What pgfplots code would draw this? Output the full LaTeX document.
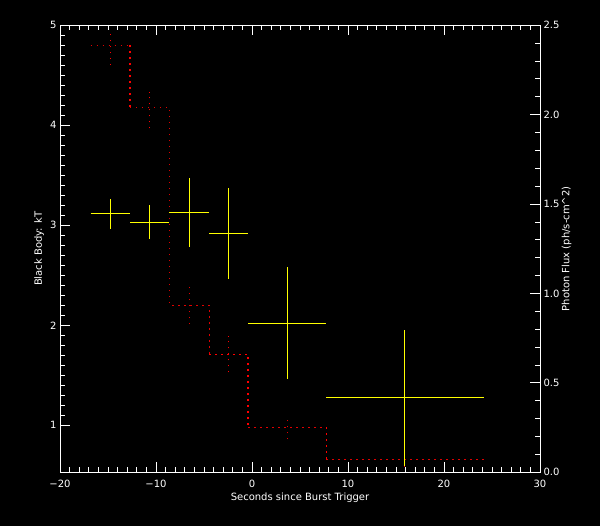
\documentclass[border=0pt]{standalone}
\usepackage{pgfplots}
\pgfplotsset{compat=1.18}
\usepackage{fontspec}
\setmainfont{DejaVu Sans}

\definecolor{fluxred}{RGB}{255,0,0}
\definecolor{fluxdark}{RGB}{225,0,0}
\definecolor{idlyellow}{RGB}{255,255,0}

\pgfplotsset{
  idl/.style={
    width=480pt, height=447pt, scale only axis,
    at={(60pt,53.7pt)}, anchor=south west,
    xmin=-20, xmax=30,
    axis line style={white, line width=0.9pt},
    tick style={white, line width=0.9pt},
    tick align=inside,
    major tick length=10pt, minor tick length=5pt,
    ticklabel style={white, font=\fontsize{10}{12}\selectfont},
    label style={white, font=\fontsize{10}{12}\selectfont},
    /pgf/number format/assume math mode=true,
  },
  dots/.style={line width=1.4pt, dash pattern=on 1.4pt off 4.6pt, unbounded coords=jump},
}

\begin{document}
\begin{tikzpicture}
\useasboundingbox (0,0) rectangle (600pt,526pt);
\fill[black] (0,0) rectangle (600pt,526pt);

% photon flux (right axis), dotted step histogram
\begin{axis}[idl,
    ymin=0, ymax=2.5,
    hide x axis,
    axis y line*=right,
    ytick={0,0.5,...,2.5}, minor y tick num=4,
    yticklabel style={/pgf/number format/.cd, fixed, fixed zerofill, precision=1},
    ylabel={Photon Flux (ph/s-cm\textasciicircum 2)},
    ylabel style={at={([xshift=26.7pt]axis description cs:1,0.5)}, anchor=center},
]
\addplot[fluxdark, dots] table {
x y
-16.8 2.388
-12.7 2.388
nan nan
-12.7 2.041
-8.6 2.041
-8.6 0.934
-4.45 0.934
-4.45 0.660
nan nan
-0.4 0.252
7.75 0.252
nan nan
7.75 0.073
24.2 0.073
nan nan
3.675 0.185
3.675 0.319
nan nan
15.9 0.03
15.9 0.115
nan nan
-6.525 0.828
-6.525 1.046
};
\addplot[fluxred, dots] table {
x y
-12.7 2.388
-12.7 2.041
nan nan
-4.45 0.660
-0.4 0.660
-0.4 0.252
nan nan
7.75 0.252
7.75 0.073
nan nan
-14.75 2.277
-14.75 2.478
nan nan
-10.65 1.924
-10.65 2.129
nan nan
-2.425 0.559
-2.425 0.761
};
\end{axis}

% black body kT (left axis), crosses
\begin{axis}[idl,
    ymin=0.53, ymax=5,
    xtick={-20,-10,...,30},
    xticklabels={−20,−10,0,10,20,30},
    minor x tick num=9,
    xtick pos=both, xticklabel pos=bottom,
    xticklabel style={yshift=-4pt},
    ytick={1,...,5}, minor y tick num=9,
    ytick pos=left,
    xlabel={Seconds since Burst Trigger},
    xlabel style={at={([yshift=-25pt]axis description cs:0.5,0)}, anchor=center},
    ylabel={Black Body: kT},
    ylabel style={at={([xshift=-21pt]axis description cs:0,0.5)}, anchor=center},
]
\addplot[idlyellow, line width=1pt, unbounded coords=jump] table {
x y
-16.8 3.12
-12.7 3.12
nan nan
-14.75 2.963
-14.75 3.263
nan nan
-12.7 3.03
-8.6 3.03
nan nan
-10.65 2.863
-10.65 3.203
nan nan
-8.6 3.13
-4.45 3.13
nan nan
-6.525 2.786
-6.525 3.473
nan nan
-4.45 2.92
-0.4 2.92
nan nan
-2.425 2.466
-2.425 3.373
nan nan
-0.4 2.02
7.75 2.02
nan nan
3.675 1.466
3.675 2.583
nan nan
7.75 1.28
24.2 1.28
nan nan
15.9 0.596
15.9 1.953
};
\end{axis}
\end{tikzpicture}
\end{document}
